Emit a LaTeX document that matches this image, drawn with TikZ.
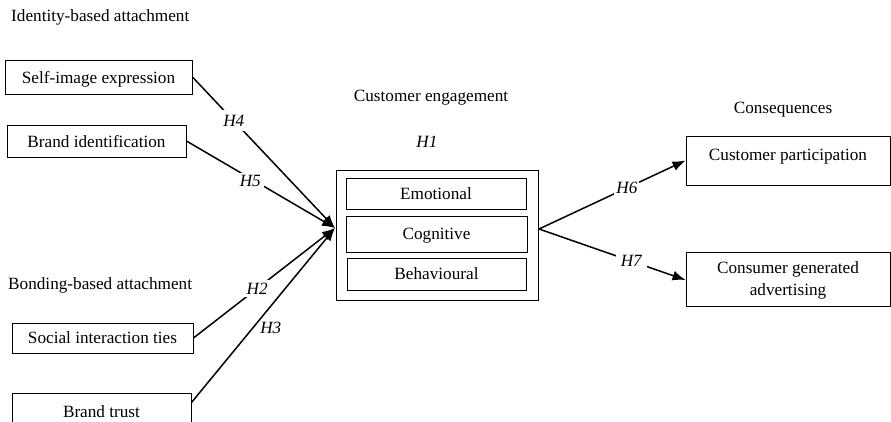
\documentclass[tikz,border=0pt]{standalone}
\usepackage{fontspec}
\setmainfont{Liberation Serif}
\usetikzlibrary{arrows.meta}

\begin{document}
\begin{tikzpicture}[x=1pt,y=-1pt,
  every node/.style={font=\fontsize{17.2}{22}\selectfont},
  box/.style={draw, line width=0.9pt, inner sep=0pt, text depth=0pt},
  hyp/.style={font=\fontsize{17.2}{22}\selectfont\itshape, fill=white, inner sep=5pt},
  arr/.style={line width=1.5pt, -{Latex[length=13pt,width=10pt]}}]

\useasboundingbox (0,0) rectangle (891,422);
\clip (0,0) rectangle (891,422);

% headings
\node[anchor=west, inner sep=0pt] (identity) at (11,17) {Identity-based attachment};
\node[anchor=west, inner sep=0pt] (bonding) at (8,285) {Bonding-based attachment};
\node (engage) at (431,98) {Customer engagement};
\node (conseq) at (783,110) {Consequences};
\node[font=\fontsize{17.2}{22}\selectfont\itshape] (h1) at (427,142) {H1};

% antecedents
\node[box, minimum width=187, minimum height=34] (selfimg) at (98.5,77) {Self-image expression};
\node[box, minimum width=179, minimum height=32] (brandid) at (96.5,141) {Brand identification};
\node[box, minimum width=181, minimum height=30] (social) at (102.5,338) {Social interaction ties};
\node[box, minimum width=179, minimum height=38] (trust) at (101.5,412) {Brand trust};

% engagement
\node[box, minimum width=202, minimum height=130] (outer) at (437,235) {};
\node[box, minimum width=180, minimum height=31] (emot) at (436,193.5) {Emotional};
\node[box, minimum width=181, minimum height=36] (cogn) at (436.5,234) {Cognitive};
\node[box, minimum width=179, minimum height=32] (behav) at (436.5,274) {Behavioural};

% consequences
\node[box, minimum width=204, minimum height=49, text depth=12pt] (custpart) at (788,160.5) {Customer participation};
\node[box, minimum width=204, minimum height=54, align=center] (consgen) at (788,279) {Consumer generated\\advertising};

\coordinate (hub) at (335,228);
\coordinate (src) at (539,229);

\draw[arr] (selfimg.east) -- node[hyp, pos=0.29] (h4) {H4} (hub);
\draw[arr] (brandid.east) -- node[hyp, pos=0.43, inner sep=3pt, yshift=-3pt] (h5) {H5} (hub);
\draw[arr] (social.east) -- node[hyp, pos=0.45, inner sep=3pt] (h2) {H2} (hub);
\draw[arr] (trust.6) -- node[font=\fontsize{17.2}{22}\selectfont\itshape, pos=0.43, right, xshift=3pt] (h3) {H3} (hub);

\draw[arr] (src) -- node[hyp, pos=0.6, inner sep=2pt] (h6) {H6} (custpart.west);
\draw[arr] (src) -- node[hyp, pos=0.63] (h7) {H7} ([yshift=-1pt]consgen.west);

\end{tikzpicture}
\end{document}
